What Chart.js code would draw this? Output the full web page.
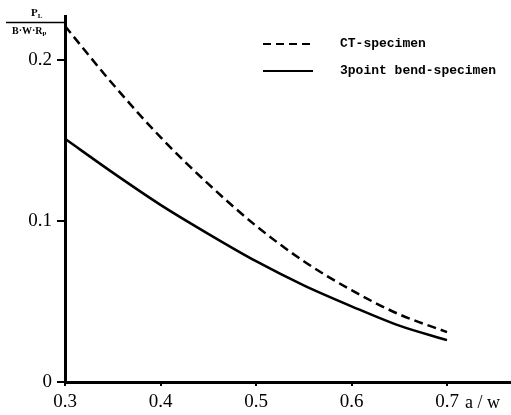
<!DOCTYPE html>
<html><head><meta charset="utf-8">
<script src="https://cdn.jsdelivr.net/npm/chart.js@4/dist/chart.umd.min.js"></script>
<style>html,body{margin:0;padding:0;background:#fff;}#wrap{width:511px;height:415px;}</style>
</head><body><div id="wrap"><canvas id="c" width="511" height="415"></canvas></div>
<script>
const aw = [0.30, 0.35, 0.40, 0.45, 0.50, 0.55, 0.60, 0.65, 0.70];
const ctSpecimen = [0.221, 0.185, 0.152, 0.123, 0.097, 0.075, 0.057, 0.042, 0.031];
const bendSpecimen = [0.151, 0.130, 0.110, 0.092, 0.075, 0.060, 0.047, 0.035, 0.026];
const xTicks = [0.3, 0.4, 0.5, 0.6, 0.7];
const yTicks = [0, 0.1, 0.2];
const seriesNames = ['CT-specimen', '3point bend-specimen'];

const serif = '"Liberation Serif", "DejaVu Serif", serif';
const mono = '"Liberation Mono", "DejaVu Sans Mono", monospace';

const extras = {
  id: 'extras',
  afterDraw(chart) {
    const ctx = chart.ctx;
    ctx.save();
    ctx.fillStyle = '#000';
    ctx.strokeStyle = '#000';
    ctx.textAlign = 'left';
    ctx.textBaseline = 'alphabetic';
    // y axis title fraction
    ctx.font = 'bold 11px ' + serif;
    ctx.fillText('P', 31, 16);
    let w = ctx.measureText('P').width;
    ctx.font = 'bold 7px ' + serif;
    ctx.fillText('L', 31 + w, 18);
    ctx.lineWidth = 1.5;
    ctx.beginPath(); ctx.moveTo(6, 22.5); ctx.lineTo(65, 22.5); ctx.stroke();
    ctx.font = 'bold 10px ' + serif;
    const den = 'B\u00b7W\u00b7R';
    ctx.fillText(den, 12, 34);
    w = ctx.measureText(den).width;
    ctx.font = 'bold 7px ' + serif;
    ctx.fillText('p', 12 + w, 35);
    // x axis unit
    ctx.font = '18px ' + serif;
    ctx.textBaseline = 'top';
    ctx.fillText('a / w', 465, 394);
    // legend
    const items = [{dash: [8, 5], y: 44}, {dash: [], y: 71}];
    items.forEach((it, i) => {
      ctx.lineWidth = 2;
      ctx.setLineDash(it.dash);
      ctx.beginPath(); ctx.moveTo(263, it.y); ctx.lineTo(313, it.y); ctx.stroke();
      ctx.setLineDash([]);
      ctx.font = 'bold 13px ' + mono;
      ctx.textBaseline = 'middle';
      ctx.fillText(seriesNames[i], 340, it.y);
    });
    ctx.restore();
  }
};

new Chart(document.getElementById('c'), {
  type: 'line',
  data: {
    datasets: [
      { label: seriesNames[0], data: aw.map((x, i) => ({x, y: ctSpecimen[i]})),
        borderColor: '#000', borderWidth: 2.5, borderDash: [9, 5], pointRadius: 0,
        cubicInterpolationMode: 'monotone', fill: false },
      { label: seriesNames[1], data: aw.map((x, i) => ({x, y: bendSpecimen[i]})),
        borderColor: '#000', borderWidth: 2.5, pointRadius: 0,
        cubicInterpolationMode: 'monotone', fill: false }
    ]
  },
  options: {
    responsive: false,
    animation: false,
    layout: { padding: { top: 15, right: 0, left: 0, bottom: 0 } },
    plugins: { legend: { display: false }, tooltip: { enabled: false } },
    scales: {
      x: {
        type: 'linear', min: 0.3, max: 0.767,
        afterBuildTicks: s => { s.ticks = xTicks.map(v => ({value: v})); },
        afterFit: s => { s.height = 33; },
        border: { display: true, color: '#000', width: 3 },
        grid: { drawOnChartArea: false, drawTicks: true, tickLength: 4, color: '#000', lineWidth: 2 },
        ticks: { color: '#000', font: { family: serif, size: 19 }, padding: 5, maxRotation: 0,
                 callback: v => v.toFixed(1) }
      },
      y: {
        type: 'linear', min: 0, max: 0.227,
        afterBuildTicks: s => { s.ticks = yTicks.map(v => ({value: v})); },
        afterFit: s => { s.width = 65; },
        border: { display: true, color: '#000', width: 3 },
        grid: { drawOnChartArea: false, drawTicks: true, tickLength: 8, color: '#000', lineWidth: 2 },
        ticks: { color: '#000', font: { family: serif, size: 19 }, padding: 5,
                 callback: v => v === 0 ? '0' : v.toFixed(1) }
      }
    }
  },
  plugins: [extras]
});
</script></body></html>
